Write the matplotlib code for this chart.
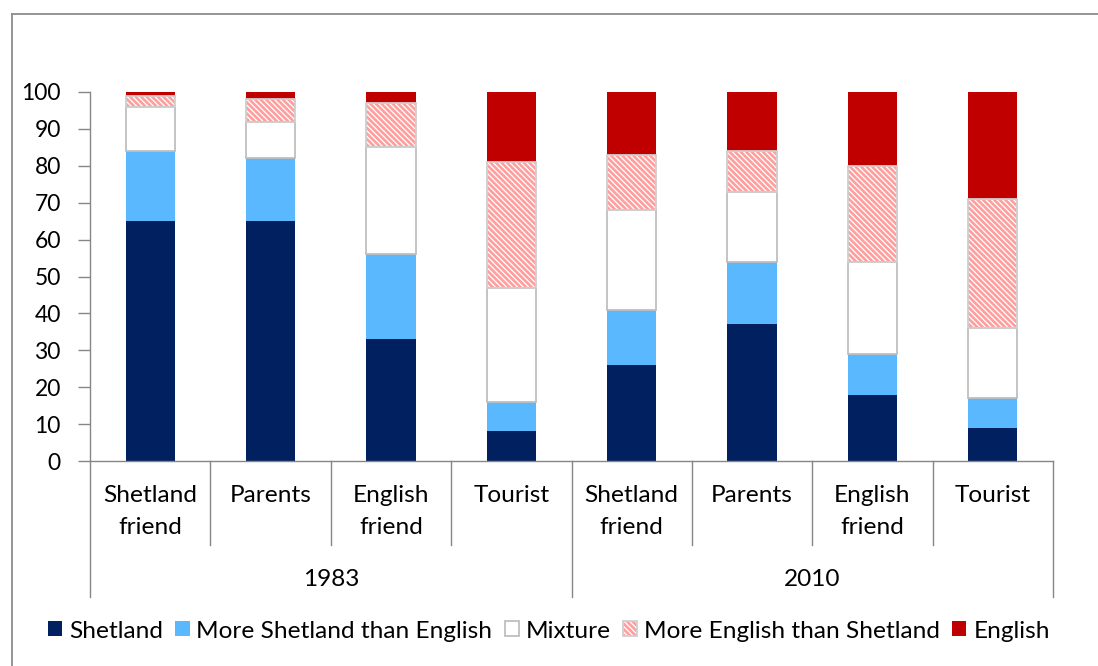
import matplotlib
matplotlib.use("Agg")
import matplotlib.pyplot as plt
import matplotlib.transforms as mtransforms
from matplotlib.lines import Line2D
from matplotlib.patches import Patch

# --- data -----------------------------------------------------------------
years = ["1983", "2010"]
categories = ["Shetland\nfriend", "Parents", "English\nfriend", "Tourist",
              "Shetland\nfriend", "Parents", "English\nfriend", "Tourist"]
series_names = ["Shetland", "More Shetland than English", "Mixture",
                "More English than Shetland", "English"]
shetland = [65, 65, 33, 8, 26, 37, 18, 9]
more_shetland = [19, 17, 23, 8, 15, 17, 11, 8]
mixture = [12, 10, 29, 31, 27, 19, 25, 19]
more_english = [3, 6, 12, 34, 15, 11, 26, 35]
english = [1, 2, 3, 19, 17, 16, 20, 29]
yticks = [0, 10, 20, 30, 40, 50, 60, 70, 80, 90, 100]

# --- styling ----------------------------------------------------------------
NAVY = "#002060"
SKY = "#5AB8FF"
RED = "#C00000"
PINK = "#FF9E9E"
GREY_EDGE = "#BFBFBF"
AXIS_GREY = "#868686"
FONT = "Lato"
FS = 17.6
FS_TICK = 16.5
HATCH = "\\" * 6

plt.rcParams["font.family"] = [FONT, "DejaVu Sans"]
plt.rcParams["hatch.linewidth"] = 1.9

W, H = 1098, 666
fig = plt.figure(figsize=(W / 100, H / 100), dpi=100)
fig.patch.set_facecolor("white")

left_px, right_px, bottom_px, top_px = 90, 1053, 461, 92
ax = fig.add_axes([left_px / W, 1 - bottom_px / H,
                   (right_px - left_px) / W, (bottom_px - top_px) / H])

x = list(range(len(categories)))
bw = 0.41

bottoms = [0] * len(x)
ax.bar(x, shetland, bw, bottom=bottoms, color=NAVY, linewidth=0, zorder=2)
bottoms = [b + v for b, v in zip(bottoms, shetland)]
ax.bar(x, more_shetland, bw, bottom=bottoms, color=SKY, linewidth=0, zorder=2)
bottoms = [b + v for b, v in zip(bottoms, more_shetland)]
ax.bar(x, mixture, bw, bottom=bottoms, facecolor="white",
       edgecolor=GREY_EDGE, linewidth=1.3, zorder=3)
bottoms = [b + v for b, v in zip(bottoms, mixture)]
# hatched segment: pink stripes, then a grey outline on top
ax.bar(x, more_english, bw, bottom=bottoms, facecolor="white",
       edgecolor=PINK, hatch=HATCH, linewidth=0, zorder=2)
ax.bar(x, more_english, bw, bottom=bottoms, fill=False,
       edgecolor="#CFCFCF", linewidth=1.3, zorder=3)
bottoms = [b + v for b, v in zip(bottoms, more_english)]
ax.bar(x, english, bw, bottom=bottoms, color=RED, linewidth=0, zorder=2)

ax.set_xlim(-0.5, len(x) - 0.5)
ax.set_ylim(0, 100)
ax.set_yticks(yticks)
ax.set_yticklabels([str(t) for t in yticks], fontsize=FS_TICK)
ax.tick_params(axis="y", direction="out", length=9, width=1,
               color=AXIS_GREY, pad=12)
ax.set_xticks([])
for side in ("top", "right"):
    ax.spines[side].set_visible(False)
for side in ("left", "bottom"):
    ax.spines[side].set_color(AXIS_GREY)
    ax.spines[side].set_linewidth(1)

# --- two-level category axis -------------------------------------------------
span = bottom_px - top_px
def yfrac(py):
    return (bottom_px - py) / span

trans = mtransforms.blended_transform_factory(ax.transData, ax.transAxes)
line_gap = 32
for xi, lab in zip(x, categories):
    lines = lab.split("\n")
    first = 495
    for k, ln in enumerate(lines):
        ax.text(xi, yfrac(first + k * line_gap), ln, transform=trans,
                ha="center", va="center", fontsize=FS, color="black")

n_per_group = len(categories) // len(years)
for gi, yr in enumerate(years):
    cx = gi * n_per_group + (n_per_group - 1) / 2
    ax.text(cx, yfrac(579), yr, transform=trans, ha="center", va="center",
            fontsize=FS, color="black")

for b in range(len(categories) + 1):
    xb = b - 0.5
    end = 597 if b % n_per_group == 0 else 545
    ax.add_line(Line2D([xb, xb], [0, yfrac(end)], transform=trans,
                       color=AXIS_GREY, linewidth=1, clip_on=False))

# --- legend ------------------------------------------------------------------
handles = [
    Patch(facecolor=NAVY, edgecolor="none"),
    Patch(facecolor=SKY, edgecolor="none"),
    Patch(facecolor="white", edgecolor=GREY_EDGE, linewidth=1.3),
    (Patch(facecolor="white", edgecolor=PINK, hatch=HATCH, linewidth=0),
     Patch(fill=False, edgecolor="#D0D0D0", linewidth=1.3)),
    Patch(facecolor=RED, edgecolor="none"),
]
fig.legend(handles, series_names, loc="center", bbox_to_anchor=(0.5, 1 - 631 / H),
           ncol=5, frameon=False, fontsize=FS, handlelength=0.58,
           handleheight=0.58, handletextpad=0.28, columnspacing=0.5,
           borderaxespad=0)

# --- chart area frame (left and top edges) ------------------------------------
fig.add_artist(Line2D([12 / W, 12 / W], [0, 1 - 14 / H], transform=fig.transFigure,
                      color="#8C8C8C", linewidth=1.3))
fig.add_artist(Line2D([12 / W, 1], [1 - 14 / H, 1 - 14 / H], transform=fig.transFigure,
                      color="#8C8C8C", linewidth=1.3))

fig.savefig("out.png", dpi=100, facecolor="white")
